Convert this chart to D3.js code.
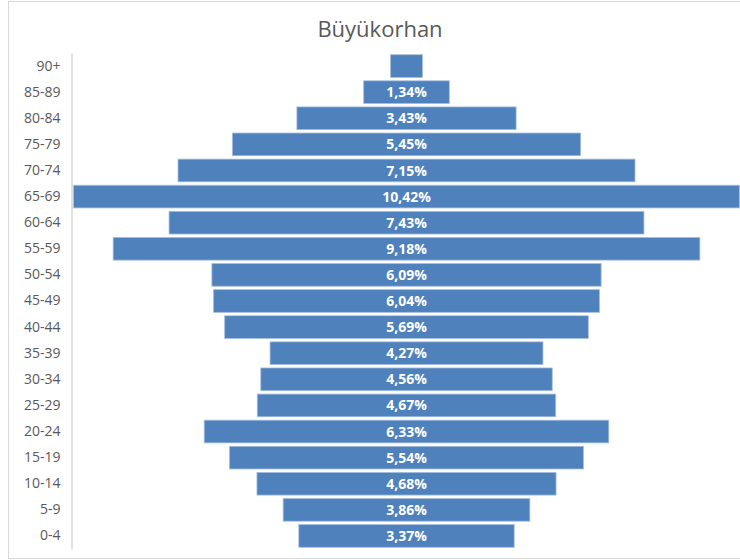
<!DOCTYPE html>
<html lang="tr">
<head>
<meta charset="utf-8">
<title>Büyükorhan</title>
<script src="https://d3js.org/d3.v7.min.js"></script>
<style>
  body { margin: 0; background: #fff; }
  text { font-family: "Open Sans", "Noto Sans", sans-serif; }
</style>
</head>
<body>
<script>
// yas gruplari (ustten alta) ve yuzdeleri
var groups = ["90+", "85-89", "80-84", "75-79", "70-74", "65-69", "60-64", "55-59", "50-54",
              "45-49", "40-44", "35-39", "30-34", "25-29", "20-24", "15-19", "10-14", "5-9", "0-4"];
var shares = [0.50, 1.34, 3.43, 5.45, 7.15, 10.42, 7.43, 9.18, 6.09,
              6.04, 5.69, 4.27, 4.56, 4.67, 6.33, 5.54, 4.68, 3.86, 3.37];
var title = "Büyükorhan";

var width = 740, height = 560;

var svg = d3.select("body").append("svg")
    .attr("width", width)
    .attr("height", height);

// chart frame
svg.append("rect")
    .attr("x", 8.5).attr("y", 1.5)
    .attr("width", width).attr("height", 557)
    .attr("fill", "none")
    .attr("stroke", "#d9d9d9");

var data = groups.map(function(g, i) { return {group: g, value: shares[i]}; });

var maxHalf = d3.max(shares) / 2;
var x = d3.scaleLinear()
    .domain([-maxHalf, maxHalf])
    .range([73.5, 739.5]);

var y = d3.scaleBand()
    .domain(groups)
    .range([53, 549])
    .paddingInner(0.13)
    .paddingOuter(0.065);

var tr = d3.formatLocale({decimal: ",", thousands: ".", grouping: [3], currency: ["", "₺"]});
var pct = tr.format(".2f");

svg.append("text")
    .attr("x", 380)
    .attr("y", 37)
    .attr("text-anchor", "middle")
    .attr("fill", "#595959")
    .style("font-size", "22px")
    .text(title);

// bars
svg.selectAll("rect.bar")
  .data(data)
  .enter()
  .append("rect")
    .attr("class", "bar")
    .attr("x", function(d) { return x(-d.value / 2); })
    .attr("y", function(d) { return y(d.group); })
    .attr("width", function(d) { return x(d.value / 2) - x(-d.value / 2); })
    .attr("height", y.bandwidth())
    .attr("fill", "#4f81bd")
    .attr("stroke", "#a7c0de")
    .attr("stroke-width", 0.8);

// data labels
svg.selectAll("text.lbl")
  .data(data.filter(function(d) { return d.value >= 1; }))
  .enter()
  .append("text")
    .attr("class", "lbl")
    .attr("x", x(0))
    .attr("y", function(d) { return y(d.group) + y.bandwidth() / 2; })
    .attr("dy", "0.36em")
    .attr("text-anchor", "middle")
    .attr("fill", "#fff")
    .style("font-size", "14px")
    .style("font-weight", "bold")
    .text(function(d) { return pct(d.value) + "%"; });

// category axis
var yAxis = svg.append("g")
    .attr("transform", "translate(71.5,0)")
    .call(d3.axisLeft(y).tickSize(0).tickPadding(11));
yAxis.select(".domain")
    .attr("stroke", "#d9d9d9")
    .attr("stroke-width", 1.5);
yAxis.selectAll(".tick text")
    .attr("fill", "#595959")
    .style("font-size", "14px")
    .style("font-family", "\"Open Sans\", sans-serif");
</script>
</body>
</html>
